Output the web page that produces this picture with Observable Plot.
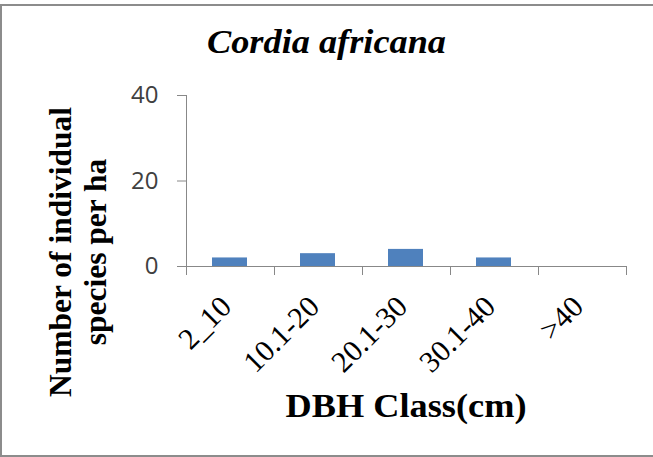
<!DOCTYPE html>
<html>
<head>
<meta charset="utf-8">
<script src="https://cdn.jsdelivr.net/npm/d3@7"></script>
<script src="https://cdn.jsdelivr.net/npm/@observablehq/plot@0.6"></script>
<style>
html, body { margin: 0; padding: 0; background: #fff; overflow: hidden; }
#wrap { position: relative; width: 653px; height: 457px; overflow: hidden; background: #fff; }
#border { position: absolute; left: 0; top: 4px; width: 700px; height: 453px; box-sizing: border-box; border: 2px solid #8c8c8c; }
#chart { position: absolute; left: 0; top: 0; }
.t { position: absolute; font-family: 'Liberation Serif', serif; font-weight: bold; color: #000; white-space: nowrap; line-height: 1; }
#title { font-style: italic; font-size: 33px; left: 0; width: 653px; text-align: center; top: 26px; transform: scaleX(1.1); }
#xtitle { font-size: 33px; left: 0; width: 812px; text-align: center; top: 390px; transform: scaleX(1.1); }
#ytitle { font-size: 31.5px; line-height: 35px; width: 400px; height: 70px; left: -122px; top: 217px; text-align: center; transform: rotate(-90deg); }
g[aria-label="y-axis tick"] { stroke: #888; }
g[aria-label="y-axis tick label"] { fill: #404040; }
</style>
</head>
<body>
<div id="wrap">
  <div id="border"></div>
  <div id="chart"></div>
  <div class="t" id="title">Cordia africana</div>
  <div class="t" id="ytitle">Number of individual<br>species per ha</div>
  <div class="t" id="xtitle">DBH Class(cm)</div>
</div>
<script>
const categories = ["2_10", "10.1-20", "20.1-30", "30.1-40", ">40"];
const counts = [2, 3, 4, 2, 0];
const yTicks = [0, 20, 40];
const yMax = 40;

const data = categories.map((c, i) => ({cls: c, n: counts[i]}));

function boundaryTicks(index, scales, values, dims) {
  const g = d3.create("svg:g").attr("stroke", "#888").attr("fill", "none");
  const x0 = dims.marginLeft, x1 = dims.width - dims.marginRight;
  const yb = scales.y(0), yt = scales.y(yMax);
  const n = categories.length, step = (x1 - x0) / n;
  g.append("line").attr("x1", x0 + 0.5).attr("x2", x0 + 0.5).attr("y1", yt).attr("y2", yb);
  for (let i = 0; i <= n; i++) {
    const x = Math.round(x0 + i * step) + 0.5;
    g.append("line").attr("x1", x).attr("x2", x).attr("y1", yb).attr("y2", yb + 9);
  }
  return g.node();
}

const plot = Plot.plot({
  width: 653,
  height: 457,
  marginLeft: 186,
  marginRight: 27,
  marginTop: 95,
  marginBottom: 191,
  style: {background: "transparent", overflow: "visible"},
  x: {domain: categories, paddingInner: 0.6, paddingOuter: 0.3, axis: null},
  y: {domain: [0, yMax], axis: null},
  marks: [
    Plot.barY(data, {x: "cls", y: "n", fill: "#4F81BD"}),
    Plot.ruleY([0], {stroke: "#888"}),
    Plot.axisY({ticks: yTicks, tickSize: 9, tickPadding: 19, fontSize: 24, fontFamily: "'Open Sans', sans-serif", label: null}),
    boundaryTicks,
    Plot.text(categories, {
      x: d => d, y: () => 0,
      rotate: -45, textAnchor: "end", lineAnchor: "bottom",
      dx: 3, dy: 42,
      fontSize: 30, fontFamily: "'Liberation Serif', serif", fill: "#000"
    })
  ]
});
document.getElementById("chart").appendChild(plot);
// force style and layout resolution of all texts so the fonts are applied before capture
let _m = 0;
plot.querySelectorAll("text").forEach(t => { getComputedStyle(t).fontFamily; _m += t.getBoundingClientRect().width; });
document.querySelectorAll(".t").forEach(e => { getComputedStyle(e).fontFamily; _m += e.getBoundingClientRect().width; });
</script>
</body>
</html>
